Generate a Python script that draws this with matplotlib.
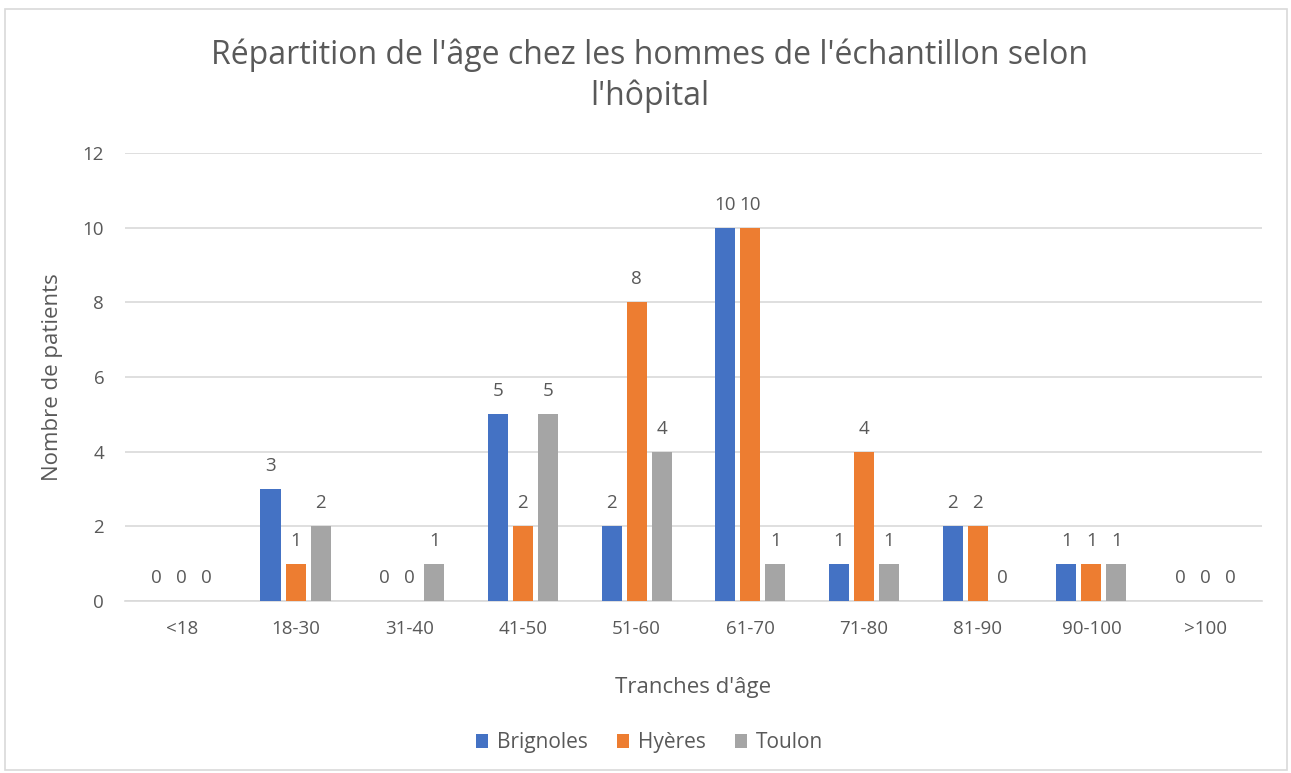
import numpy as np
import matplotlib
matplotlib.use("Agg")
import matplotlib.pyplot as plt
from matplotlib.patches import Rectangle

plt.rcParams['font.family'] = ['Open Sans', 'DejaVu Sans']

categories = ['<18', '18-30', '31-40', '41-50', '51-60', '61-70', '71-80', '81-90', '90-100', '>100']
brignoles = [0, 3, 0, 5, 2, 10, 1, 2, 1, 0]
hyeres = [0, 1, 0, 2, 8, 10, 4, 2, 1, 0]
toulon = [0, 2, 1, 5, 4, 1, 1, 0, 1, 0]
series = [('Brignoles', brignoles, '#4472C4'),
          ('Hyères', hyeres, '#ED7D31'),
          ('Toulon', toulon, '#A5A5A5')]

txt = '#595959'
fig = plt.figure(figsize=(12.91, 7.73), dpi=100)
fig.patches.append(Rectangle((0.004, 0.004), 0.993, 0.985, transform=fig.transFigure,
                             fill=False, edgecolor='#D9D9D9', linewidth=1.2))
ax = fig.add_axes([0.0968, 0.2225, 0.8807, 0.5795])

x = np.arange(len(categories))
w = 0.176
step = 0.22
for i, (name, vals, col) in enumerate(series):
    pos = x + (i - 1) * step
    ax.bar(pos, vals, width=w, color=col, label=name, zorder=3)
    for px, v in zip(pos, vals):
        ax.annotate(str(v), (px, v), xytext=(0, 10), textcoords='offset points',
                    ha='center', va='bottom', fontsize=13.5, color=txt)

ax.set_xlim(-0.5, len(categories) - 0.5)
ax.set_ylim(0, 12)
ax.set_yticks(range(0, 13, 2))
ax.set_xticks(x)
ax.set_xticklabels(categories)
ax.grid(axis='y', color='#D9D9D9', linewidth=1.2, zorder=0)
for s in ['top', 'right', 'left']:
    ax.spines[s].set_visible(False)
ax.spines['bottom'].set_color('#D9D9D9')
ax.spines['bottom'].set_linewidth(1.2)
ax.tick_params(axis='both', length=0, labelsize=13.5, colors=txt)
ax.tick_params(axis='y', pad=15)
ax.tick_params(axis='x', pad=14)

ax.set_xlabel("Tranches d'âge", fontsize=16, color=txt, labelpad=28)
ax.set_ylabel("Nombre de patients", fontsize=16, color=txt, labelpad=14)

fig.text(0.503, 0.902, "Répartition de l'âge chez les hommes de l'échantillon selon\nl'hôpital",
         ha='center', va='center', fontsize=23, color=txt, linespacing=1.3)

fig.legend(loc='center', bbox_to_anchor=(0.503, 0.039), ncol=3, frameon=False,
           fontsize=15, labelcolor=txt, handlelength=0.6, handleheight=0.6,
           handletextpad=0.4, columnspacing=1.4)

fig.savefig('out.png', dpi=100)
